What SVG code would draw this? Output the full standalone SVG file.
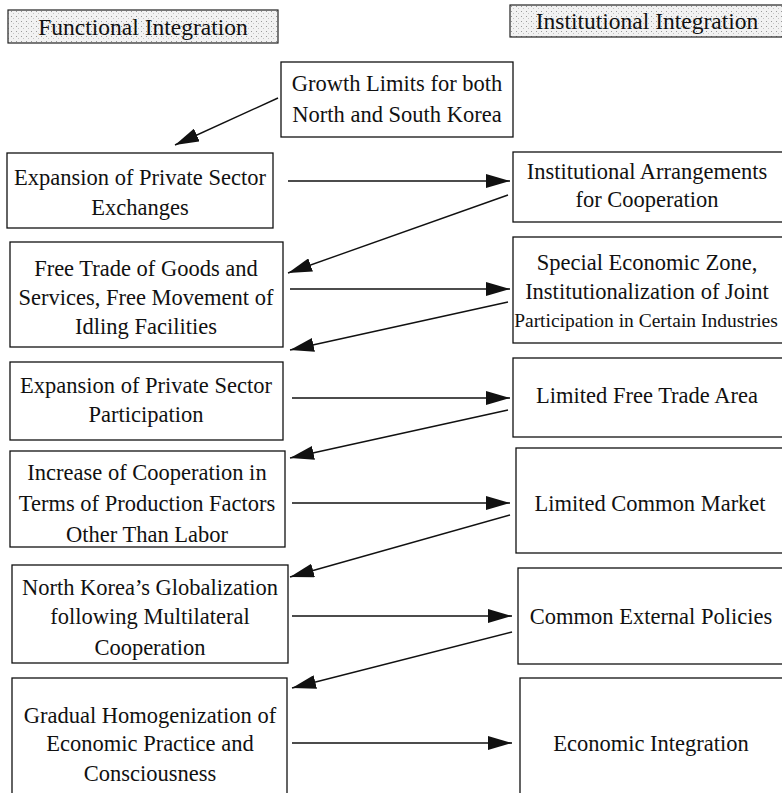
<svg xmlns="http://www.w3.org/2000/svg" width="782" height="793" viewBox="0 0 782 793">
<style>
.box{fill:#fff;stroke:#111;stroke-width:1.3}
.hdr{fill:url(#stip);stroke:#222;stroke-width:1.2}
.t{font-family:"Liberation Serif","DejaVu Serif",serif;font-size:22.5px;fill:#111;text-anchor:middle}
.s{font-size:19.5px}
.h{font-family:"Liberation Serif","DejaVu Serif",serif;font-size:23.5px;fill:#111;text-anchor:middle}
.c{stroke:#111;stroke-width:1.4;fill:none;marker-end:url(#ah)}
</style>
<defs>
<pattern id="stip" width="5" height="5" patternUnits="userSpaceOnUse">
<rect width="5" height="5" fill="#f2f2f2"/>
<rect x="1" y="1" width="1" height="1" fill="#9a9a9a"/>
<rect x="3" y="3" width="1" height="1" fill="#c4c4c4"/>
</pattern>
<marker id="ah" markerUnits="userSpaceOnUse" markerWidth="26" markerHeight="14" refX="24" refY="7" orient="auto">
<path d="M0,0 L24,7 L0,14 Z" fill="#111"/>
</marker>
</defs>

<g id="hdr-functional">
<rect class="hdr" x="8" y="10" width="270" height="33"/>
<text class="h" x="143" y="35">Functional Integration</text>
</g>
<g id="hdr-institutional">
<rect class="hdr" x="510" y="5" width="275" height="32"/>
<text class="h" x="647" y="29">Institutional Integration</text>
</g>

<g id="n-growth">
<rect class="box" x="281" y="62" width="232" height="75"/>
<text class="t" x="397" y="91">Growth Limits for both</text>
<text class="t" x="397" y="122">North and South Korea</text>
</g>

<g id="n-l1">
<rect class="box" x="7" y="153" width="266" height="75"/>
<text class="t" x="140" y="185">Expansion of Private Sector</text>
<text class="t" x="140" y="215">Exchanges</text>
</g>
<g id="n-r1">
<rect class="box" x="513" y="152" width="272" height="70"/>
<text class="t" x="647" y="179">Institutional Arrangements</text>
<text class="t" x="647" y="207">for Cooperation</text>
</g>

<g id="n-l2">
<rect class="box" x="10" y="242" width="273" height="105"/>
<text class="t" x="146" y="276">Free Trade of Goods and</text>
<text class="t" x="146" y="305">Services, Free Movement of</text>
<text class="t" x="146" y="334">Idling Facilities</text>
</g>
<g id="n-r2">
<rect class="box" x="513" y="237" width="272" height="106"/>
<text class="t" x="647" y="270">Special Economic Zone,</text>
<text class="t" x="647" y="299">Institutionalization of Joint</text>
<text class="t s" x="646" y="327">Participation in Certain Industries</text>
</g>

<g id="n-l3">
<rect class="box" x="10" y="362" width="273" height="78"/>
<text class="t" x="146" y="393">Expansion of Private Sector</text>
<text class="t" x="146" y="422">Participation</text>
</g>
<g id="n-r3">
<rect class="box" x="513" y="358" width="272" height="79"/>
<text class="t" x="647" y="403">Limited Free Trade Area</text>
</g>

<g id="n-l4">
<rect class="box" x="10" y="451" width="275" height="96"/>
<text class="t" x="147" y="480">Increase of Cooperation in</text>
<text class="t" x="147" y="511">Terms of Production Factors</text>
<text class="t" x="147" y="542">Other Than Labor</text>
</g>
<g id="n-r4">
<rect class="box" x="516" y="448" width="269" height="105"/>
<text class="t" x="650" y="511">Limited Common Market</text>
</g>

<g id="n-l5">
<rect class="box" x="12" y="565" width="276" height="98"/>
<text class="t" x="150" y="595">North Korea’s Globalization</text>
<text class="t" x="150" y="624">following Multilateral</text>
<text class="t" x="150" y="655">Cooperation</text>
</g>
<g id="n-r5">
<rect class="box" x="518" y="568" width="267" height="96"/>
<text class="t" x="651" y="624">Common External Policies</text>
</g>

<g id="n-l6">
<rect class="box" x="12" y="678" width="275" height="120"/>
<text class="t" x="150" y="723">Gradual Homogenization of</text>
<text class="t" x="150" y="751">Economic Practice and</text>
<text class="t" x="150" y="781">Consciousness</text>
</g>
<g id="n-r6">
<rect class="box" x="520" y="678" width="265" height="120"/>
<text class="t" x="651" y="751">Economic Integration</text>
</g>

<g id="connectors">
<line class="c" x1="278" y1="98" x2="175" y2="145"/>
<line class="c" x1="288" y1="181" x2="510" y2="181"/>
<line class="c" x1="508" y1="195" x2="288" y2="273"/>
<line class="c" x1="290" y1="289" x2="510" y2="289"/>
<line class="c" x1="508" y1="302" x2="290" y2="350"/>
<line class="c" x1="292" y1="398" x2="510" y2="398"/>
<line class="c" x1="508" y1="410" x2="290" y2="458"/>
<line class="c" x1="292" y1="503" x2="510" y2="503"/>
<line class="c" x1="510" y1="515" x2="290" y2="577"/>
<line class="c" x1="292" y1="616" x2="512" y2="616"/>
<line class="c" x1="512" y1="632" x2="292" y2="688"/>
<line class="c" x1="292" y1="743" x2="512" y2="743"/>
</g>
</svg>
